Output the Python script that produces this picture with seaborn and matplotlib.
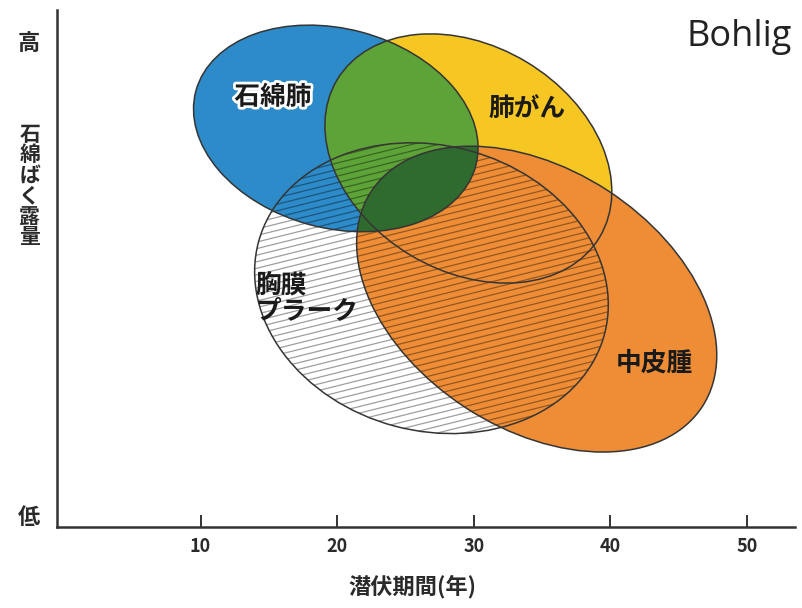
import matplotlib
matplotlib.use('Agg')
import numpy as np
import matplotlib.pyplot as plt
import seaborn as sns
from matplotlib.patches import Ellipse
from matplotlib.collections import LineCollection
import matplotlib.patheffects as pe

# ellipses: latency (years) vs exposure (arbitrary units)
diseases = ['石綿肺', '肺がん', '胸膜\nプラーク', '中皮腫']
latency_center = [19.9, 29.6, 26.9, 34.6]
exposure_center = [29.2, 27.0, 17.5, 16.7]
latency_span = [21.2, 22.4, 26.2, 28.9]
exposure_span = [14.6, 16.5, 20.9, 19.0]
tilt = [-15, -31, -15, -33]

x_ticks = [10, 20, 30, 40, 50]
y_ticks = [0.9, 35.6]
y_tick_labels = ['低', '高']

colors = {'blue': '#2d8bc9', 'yellow': '#f6c722', 'green': '#5da338',
          'dkgreen': '#2f6a2f', 'orange': '#ee8d36', 'line': '#353535'}

sns.set_theme(style='white')
plt.rcParams['font.family'] = ['Noto Sans CJK JP', 'DejaVu Sans']

fig = plt.figure(figsize=(8.03, 6.08), dpi=100)
ax = fig.add_axes([0.071, 0.133, 0.919, 0.850])
ax.set_xlim(-0.5, 53.5)
ax.set_ylim(0, 37.85)


def make_ellipse(i, **kw):
    e = Ellipse((latency_center[i], exposure_center[i]), latency_span[i],
                exposure_span[i], angle=tilt[i], **kw)
    ax.add_patch(e)
    return e


# hatched plaque region base
plaque_base = make_ellipse(2, facecolor='white', edgecolor='none', zorder=1)
blue = make_ellipse(0, facecolor=colors['blue'], edgecolor='none', zorder=2)
make_ellipse(1, facecolor=colors['yellow'], edgecolor='none', zorder=3)
green = make_ellipse(1, facecolor=colors['green'], edgecolor='none', zorder=4)
green.set_clip_path(blue)
orange = make_ellipse(3, facecolor=colors['orange'], edgecolor='none', zorder=5)
dk = make_ellipse(0, facecolor=colors['dkgreen'], edgecolor='none', zorder=7.5)
dk.set_clip_path(orange)

# hatch lines for pleural plaque
slope = np.tan(np.radians(14))
segs = []
for c in np.arange(-10, 45, 0.48):
    segs.append([(5, c + slope * 5), (50, c + slope * 50)])
hatch = LineCollection(segs, colors=[(0, 0, 0, 0.38)], linewidths=0.9, zorder=7)
ax.add_collection(hatch)
hatch.set_clip_path(plaque_base)

# outlines
for i in range(4):
    make_ellipse(i, facecolor='none', edgecolor=colors['line'], lw=1.1, zorder=8)

# labels
lab_pos = [(15.3, 31.5, 'center'), (33.9, 30.7, 'center'),
           (14.0, 16.8, 'left'), (43.2, 12.0, 'center')]
for name, (x, y, ha) in zip(diseases, lab_pos):
    t = ax.text(x, y, name, ha=ha, va='center', fontsize=18.5, fontweight='bold',
                color='#1a1a1a', linespacing=0.95, zorder=9)
    if name == '石綿肺':
        t.set_path_effects([pe.withStroke(linewidth=4, foreground='white')])

# axes styling
sns.despine(ax=ax)
for s in ['left', 'bottom']:
    ax.spines[s].set_color('#333333')
    ax.spines[s].set_linewidth(1.8)
ax.set_xticks(x_ticks)
ax.set_xticklabels([str(v) for v in x_ticks], fontsize=13, fontweight='bold',
                   color='#2a2a2a')
ax.tick_params(axis='x', direction='in', length=9, width=1.4, color='#333333', pad=7,
               bottom=True)
ax.set_yticks(y_ticks)
ax.set_yticklabels(y_tick_labels, fontsize=16, fontweight='bold', color='#2a2a2a')
ax.tick_params(axis='y', length=0, pad=12)

ax.set_xlabel('潜伏期間(年)', fontsize=16, fontweight='bold', color='#2a2a2a')
ax.xaxis.set_label_coords(0.481, -0.092)
ax.set_ylabel('\n'.join('石綿ばく露量'), rotation=0, fontsize=15, fontweight='bold',
              color='#2a2a2a', linespacing=0.97, va='center', ha='center')
ax.yaxis.set_label_coords(-0.037, 0.661)

fig.text(0.921, 0.939, 'Bohlig', ha='center', va='center', fontsize=26,
         family='Open Sans', color='#222222')

fig.savefig('out.png', dpi=100)
